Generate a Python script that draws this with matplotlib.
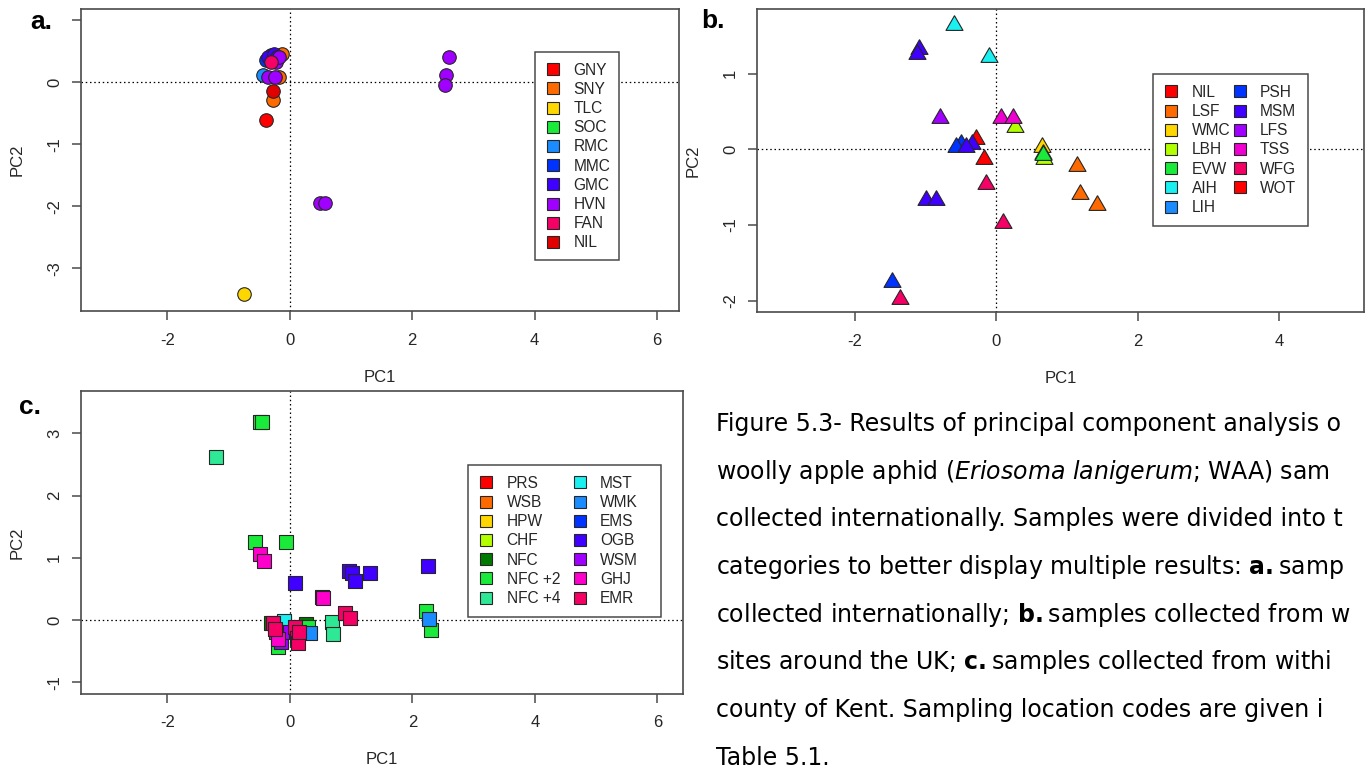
import matplotlib
matplotlib.use("Agg")
import matplotlib.pyplot as plt
from matplotlib.lines import Line2D
from matplotlib.patches import Rectangle

plt.rcParams["font.family"] = ["Liberation Sans", "DejaVu Sans"]
plt.rcParams["axes.unicode_minus"] = False
plt.rcParams["mathtext.fontset"] = "dejavusans"

# ---- panel a: international samples (circles) ----
a_labels = ["GNY", "SNY", "TLC", "SOC", "RMC", "MMC", "GMC", "HVN", "FAN", "NIL"]
a_colors = ["#FF0000", "#FF6A00", "#FFD700", "#1AEB3A", "#1A8CFF",
            "#0033FF", "#4000FF", "#A000FF", "#F50064", "#E00000"]
a_x = [[-0.39], [-0.27, -0.17, -0.12], [-0.75], [-0.28], [-0.43, -0.36],
       [-0.38, -0.30], [-0.35, -0.25, -0.20],
       [2.60, 2.56, 2.53, 0.49, 0.57, -0.35, -0.24, -0.22, -0.18],
       [-0.30], [-0.27]]
a_y = [[-0.61], [-0.29, 0.09, 0.45], [-3.41], [0.42], [0.12, 0.38],
       [0.36, 0.44], [0.41, 0.45, 0.40],
       [0.41, 0.11, -0.04, -1.95, -1.95, 0.08, 0.08, 0.33, 0.40],
       [0.33], [-0.135]]

# ---- panel b: UK sites (triangles) ----
b_labels = ["NIL", "LSF", "WMC", "LBH", "EVW", "AIH", "LIH",
            "PSH", "MSM", "LFS", "TSS", "WFG", "WOT"]
b_colors = ["#FF0000", "#FF6A00", "#FFD700", "#B2FF00", "#1AEB3A", "#1AF0F0", "#1A8CFF",
            "#0033FF", "#4000FF", "#A000FF", "#F000D0", "#F50064", "#FF0000"]
b_x = [[-0.29], [1.14, 1.18, 1.42], [0.64], [0.66, 0.68, 0.26], [0.66], [-0.60, -0.11], [-0.52],
       [-0.50, -0.57, -1.48], [-1.09, -1.12, -0.35, -0.43, -1.00, -0.85], [-0.80],
       [0.07, 0.23], [-0.14, 0.09, -1.36], [-0.17]]
b_y = [[0.14], [-0.22, -0.59, -0.73], [0.03], [-0.06, -0.13, 0.29], [-0.07], [1.65, 1.22], [0.04],
       [0.07, 0.03, -1.75], [1.33, 1.26, 0.07, 0.03, -0.67, -0.67], [0.42],
       [0.42, 0.42], [-0.46, -0.97, -1.98], [-0.13]]

# ---- panel c: Kent sites (squares) ----
c_labels = ["PRS", "WSB", "HPW", "CHF", "NFC", "NFC +2", "NFC +4",
            "MST", "WMK", "EMS", "OGB", "WSM", "GHJ", "EMR"]
c_colors = ["#FF0000", "#FF6A00", "#FFD700", "#B2FF00", "#007A00", "#1AEB3A", "#2EE895",
            "#1AF0F0", "#1A8CFF", "#0033FF", "#4000FF", "#A000FF", "#FF00CC", "#F50064"]
c_x = [[0.10], [-0.20], [-0.22], [-0.25], [-0.30, 0.26],
       [-0.49, -0.45, -0.57, -0.06, 2.22, 2.30, -0.19, 0.30],
       [-1.20, 0.69, 0.70, -0.10],
       [-0.10], [0.33, 2.28], [-0.15], [0.09, 0.96, 1.02, 1.06, 1.31, 2.25],
       [-0.18, -0.15, -0.12], [-0.49, -0.43, 0.52, 0.54, -0.22, -0.20],
       [0.90, 0.99, -0.27, -0.25, 0.09, 0.11, 0.13, 0.15]]
c_y = [[-0.15], [-0.10], [-0.15], [-0.10], [-0.05, -0.06],
       [3.18, 3.18, 1.25, 1.25, 0.15, -0.16, -0.43, -0.11],
       [2.62, -0.03, -0.22, -0.05],
       [-0.02], [-0.21, 0.01], [-0.30], [0.59, 0.78, 0.76, 0.63, 0.76, 0.86],
       [-0.25, -0.35, -0.20], [1.06, 0.94, 0.37, 0.35, -0.20, -0.30],
       [0.11, 0.03, -0.05, -0.15, -0.11, -0.29, -0.37, -0.20]]

caption = [
    "Figure 5.3- Results of principal component analysis o",
    r"woolly apple aphid ($\mathit{Eriosoma\ lanigerum}$; WAA) sam",
    "collected internationally. Samples were divided into t",
    r"categories to better display multiple results: $\mathbf{a.}$samp",
    r"collected internationally; $\mathbf{b.}$samples collected from w",
    r"sites around the UK; $\mathbf{c.}$samples collected from withi",
    "county of Kent. Sampling location codes are given i",
    "Table 5.1.",
]

W, H = 1371, 772
fig = plt.figure(figsize=(W / 100, H / 100), dpi=100)

tri = [(0, 1.5551), (-1.3468, -0.7776), (1.3468, -0.7776), (0, 1.5551)]
edge = "#262626"
axcol = "#4a4a4a"
txtcol = "#262626"


def make_axes(l, t, r, b):
    return fig.add_axes([l / W, 1 - b / H, (r - l) / W, (b - t) / H])


def style(ax, xlim, ylim, xt, yt, ytl=None):
    ax.set_xlim(*xlim)
    ax.set_ylim(*ylim)
    ax.set_xticks(xt)
    ax.set_yticks(yt)
    if ytl is not None:
        ax.set_yticklabels(ytl)
    for s in ax.spines.values():
        s.set_color(axcol)
        s.set_linewidth(1.2)
    ax.tick_params(axis="both", direction="out", length=6.5, width=1.1,
                   color=axcol, labelsize=12, labelcolor=txtcol)
    ax.tick_params(axis="x", pad=9)
    ax.tick_params(axis="y", pad=7)
    for lab in ax.get_yticklabels():
        lab.set_rotation(90)
        lab.set_va("center")
    ax.axhline(0, color="black", lw=0.9, ls=(0, (1.2, 2.2)), zorder=1)
    ax.axvline(0, color="black", lw=0.9, ls=(0, (1.2, 2.2)), zorder=1)
    ax.set_xlabel("PC1", fontsize=12, color=txtcol, labelpad=16)
    ax.set_ylabel("PC2", fontsize=12, color=txtcol, labelpad=16)


def add_legend(ax, labels, colors, box, ncol, colsp):
    # box = (left, top, right, bottom) in figure pixels, drawn like R's legend frame
    l, t, r, b = box
    ax.add_patch(Rectangle((l / W, 1 - b / H), (r - l) / W, (b - t) / H,
                           transform=fig.transFigure, facecolor="white",
                           edgecolor=axcol, linewidth=1.1, zorder=4, clip_on=False))
    handles = [Line2D([], [], ls="", marker="s", markersize=8, markerfacecolor=c,
                      markeredgecolor=edge, markeredgewidth=0.8) for c in colors]
    leg = ax.legend(handles, labels, loc="upper left", ncol=ncol,
                    bbox_to_anchor=(l / W, 1 - t / H),
                    bbox_transform=fig.transFigure, borderaxespad=0,
                    fontsize=11.2, frameon=False, borderpad=0.7, handlelength=1.0,
                    handletextpad=0.8, labelspacing=0.27, columnspacing=colsp)
    for tx in leg.get_texts():
        tx.set_color(txtcol)
    leg.set_zorder(5)


# panel a
ax_a = make_axes(80.7, 9, 679, 311)
for xs, ys, col in zip(a_x, a_y, a_colors):
    ax_a.scatter(xs, ys, s=95, marker="o", c=col, edgecolors=edge, linewidths=0.8, zorder=3)
style(ax_a, (-3.415, 6.36), (-3.69, 1.18), [-2, 0, 2, 4, 6], [-3, -2, -1, 0, 1],
      ["-3", "-2", "-1", "0", ""])
add_legend(ax_a, a_labels, a_colors, (534.7, 51.7, 618.7, 260), 1, 0.5)

# panel b
ax_b = make_axes(756.7, 9, 1364, 312)
for xs, ys, col in zip(b_x, b_y, b_colors):
    ax_b.scatter(xs, ys, s=200, marker=tri, c=col, edgecolors=edge, linewidths=0.8, zorder=3)
style(ax_b, (-3.39, 5.2), (-2.15, 1.856), [-2, 0, 2, 4], [-2, -1, 0, 1])
add_legend(ax_b, b_labels, b_colors, (1152.7, 74, 1308.3, 226), 2, 0.12)

# panel c
ax_c = make_axes(80.7, 391, 683, 693.7)
for xs, ys, col in zip(c_x, c_y, c_colors):
    ax_c.scatter(xs, ys, s=100, marker="s", c=col, edgecolors=edge, linewidths=0.8, zorder=3)
style(ax_c, (-3.415, 6.42), (-1.185, 3.68), [-2, 0, 2, 4, 6], [-1, 0, 1, 2, 3])
add_legend(ax_c, c_labels, c_colors, (467.7, 465, 661, 617.3), 2, 0.75)

# panel letters
fig.text(41 / W, 1 - 22 / H, "a.", fontsize=19, fontweight="bold", ha="center", va="center")
fig.text(713 / W, 1 - 21 / H, "b.", fontsize=19, fontweight="bold", ha="center", va="center")
fig.text(30 / W, 1 - 407 / H, "c.", fontsize=19, fontweight="bold", ha="center", va="center")

# caption
for i, line in enumerate(caption):
    fig.text(716 / W, 1 - (431 + i * 47.7) / H, line, fontsize=17, color="black",
             family="DejaVu Sans", ha="left", va="baseline")

fig.savefig("out.png", dpi=100)
